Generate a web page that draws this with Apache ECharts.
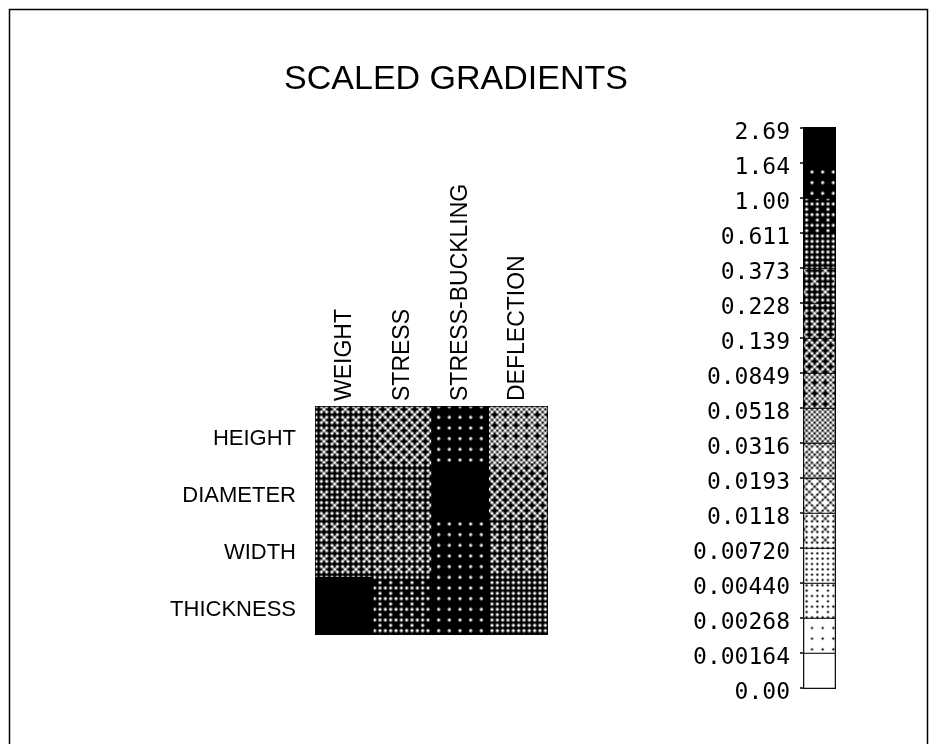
<!DOCTYPE html>
<html>
<head>
<meta charset="utf-8">
<script src="https://cdn.jsdelivr.net/npm/echarts@6/dist/echarts.min.js"></script>
<style>
  html, body { margin: 0; padding: 0; background: #fff; }
  #chart { width: 937px; height: 744px; }
</style>
</head>
<body>
<div id="chart"></div>
<script>
// Design variables (rows) and responses (columns)
const rowNames = ['HEIGHT', 'DIAMETER', 'WIDTH', 'THICKNESS'];
const colNames = ['WEIGHT', 'STRESS', 'STRESS-BUCKLING', 'DEFLECTION'];

// Scaled gradient magnitudes, one array per design variable (order of colNames)
const heightGrad    = [0.18, 0.11, 1.25, 0.065];
const diameterGrad  = [0.30, 0.17, 2.10, 0.11];
const widthGrad     = [0.19, 0.16, 1.20, 0.15];
const thicknessGrad = [2.20, 0.80, 1.30, 0.45];

// Shade scale boundaries, bottom to top
const scaleLabels = ['0.00', '0.00164', '0.00268', '0.00440', '0.00720', '0.0118',
  '0.0193', '0.0316', '0.0518', '0.0849', '0.139', '0.228', '0.373', '0.611',
  '1.00', '1.64', '2.69'];

const scaleEdges = scaleLabels.map(Number);
const bandCount = scaleLabels.length - 1;

// Amount of white (out of 64) in each band's dither, bottom band first
const whiteLevels = [64, 60, 52, 48, 44, 40, 36, 32, 28, 24, 20, 18, 16, 12, 4, 0];

// 8x8 ordered-dither threshold matrix
const M4 = [[0, 8, 2, 10], [12, 4, 14, 6], [3, 11, 1, 9], [15, 7, 13, 5]];
const M2 = [[0, 2], [3, 1]];
function bayer(i, j) {
  return 4 * M4[i % 4][j % 4] + M2[Math.floor(i / 4) % 2][Math.floor(j / 4) % 2];
}

// Build a repeating dither tile: 24x24 dither pixels magnified onto 64x64 canvas pixels
const UNITS = 24, TILE = 64;
function makeDither(level) {
  const cv = document.createElement('canvas');
  cv.width = TILE; cv.height = TILE;
  const ctx = cv.getContext('2d');
  const img = ctx.createImageData(TILE, TILE);
  const wrap = (n) => ((n % UNITS) + UNITS) % UNITS;
  const on = (i, j) => (bayer(wrap(i) % 8, wrap(j) % 8) < level ? 1 : 0);
  const s = UNITS / TILE;
  for (let y = 0; y < TILE; y++) {
    const v = (y + 0.5) * s - 0.5, i0 = Math.floor(v), fy = v - i0;
    for (let x = 0; x < TILE; x++) {
      const u = (x + 0.5) * s - 0.5, j0 = Math.floor(u), fx = u - j0;
      let val = on(i0, j0) * (1 - fx) * (1 - fy) + on(i0, j0 + 1) * fx * (1 - fy)
              + on(i0 + 1, j0) * (1 - fx) * fy + on(i0 + 1, j0 + 1) * fx * fy;
      val = Math.max(0, Math.min(1, (val - 0.08) * 1.45));
      const c = Math.round(255 * val);
      const k = (y * TILE + x) * 4;
      img.data[k] = c; img.data[k + 1] = c; img.data[k + 2] = c; img.data[k + 3] = 255;
    }
  }
  ctx.putImageData(img, 0, 0);
  return { image: cv, repeat: 'repeat' };
}
const bandFills = whiteLevels.map(makeDither);

function bandOf(v) {
  for (let k = bandCount - 1; k >= 0; k--) {
    if (v >= scaleEdges[k]) return k;
  }
  return 0;
}

const gradRows = [heightGrad, diameterGrad, widthGrad, thicknessGrad];
const cellData = [];
gradRows.forEach((row, r) => {
  row.forEach((v, c) => {
    cellData.push({ value: [c, r, v], itemStyle: { color: bandFills[bandOf(v)] } });
  });
});

const bandIndex = scaleLabels.slice(1).map((_, k) => String(k));
const keyData = bandIndex.map((_, k) => ({ value: [0, k, k], itemStyle: { color: bandFills[k] } }));

const labelFont = 'Liberation Sans, Arial, sans-serif';
const hidden = { axisLine: { show: false }, axisTick: { show: false }, axisLabel: { show: false }, splitLine: { show: false } };

const chart = echarts.init(document.getElementById('chart'), null, { renderer: 'canvas' });
chart.setOption({
  animation: false,
  backgroundColor: '#fff',
  title: {
    text: 'SCALED GRADIENTS',
    left: 451, top: 58, textAlign: 'center',
    textStyle: { fontFamily: labelFont, fontWeight: 'normal', fontSize: 34, color: '#000' }
  },
  graphic: [{
    type: 'rect', silent: true,
    shape: { x: 9.5, y: 9.5, width: 918, height: 780 },
    style: { fill: 'none', stroke: '#000', lineWidth: 1.5 }
  }],
  grid: [
    // gradient cells
    { left: 316, top: 407, width: 231, height: 227, show: true, borderColor: '#000', borderWidth: 2, backgroundColor: '#000' },
    // shade key bar
    { left: 804, top: 128, width: 31, height: 560, show: true, borderColor: '#000', borderWidth: 2 },
    // row names, set slightly below the row centres
    { left: 316, top: 411, width: 231, height: 227 },
    // key values, set slightly below the band edges
    { left: 804, top: 133, width: 31, height: 560 }
  ],
  xAxis: [
    {
      type: 'category', gridIndex: 0, data: colNames, position: 'top',
      axisLine: { show: false }, axisTick: { show: false }, splitLine: { show: false },
      axisLabel: { rotate: -90, margin: 6, fontFamily: labelFont, fontSize: 23, color: '#000', interval: 0 }
    },
    Object.assign({ type: 'category', gridIndex: 1, data: ['key'] }, hidden),
    Object.assign({ type: 'category', gridIndex: 2, data: colNames }, hidden),
    Object.assign({ type: 'category', gridIndex: 3, data: ['key'] }, hidden)
  ],
  yAxis: [
    Object.assign({ type: 'category', gridIndex: 0, data: rowNames, inverse: true }, hidden),
    Object.assign({ type: 'category', gridIndex: 1, data: bandIndex, position: 'right' }, hidden),
    {
      type: 'value', gridIndex: 1, min: 0, max: bandCount, interval: 1, position: 'left',
      axisLine: { show: false }, splitLine: { show: false }, axisLabel: { show: false },
      axisTick: { show: true, length: 4, inside: false, lineStyle: { color: '#000', width: 1.5 } }
    },
    {
      type: 'category', gridIndex: 2, data: rowNames, inverse: true,
      axisLine: { show: false }, axisTick: { show: false }, splitLine: { show: false },
      axisLabel: { margin: 20, fontFamily: labelFont, fontSize: 22, color: '#000', interval: 0 }
    },
    {
      type: 'value', gridIndex: 3, min: 0, max: bandCount, interval: 1, position: 'left',
      axisLine: { show: false }, splitLine: { show: false }, axisTick: { show: false },
      axisLabel: {
        margin: 14, fontFamily: 'DejaVu Sans Mono, monospace', fontSize: 23, color: '#000',
        formatter: (v) => scaleLabels[Math.round(v)]
      }
    }
  ],
  series: [
    {
      name: 'gradients', type: 'heatmap', xAxisIndex: 0, yAxisIndex: 0,
      data: cellData, itemStyle: { borderWidth: 0 }, emphasis: { disabled: true }
    },
    {
      name: 'scale', type: 'heatmap', xAxisIndex: 1, yAxisIndex: 1,
      data: keyData, itemStyle: { borderColor: '#000', borderWidth: 1 }, emphasis: { disabled: true }
    }
  ]
});
</script>
</body>
</html>
